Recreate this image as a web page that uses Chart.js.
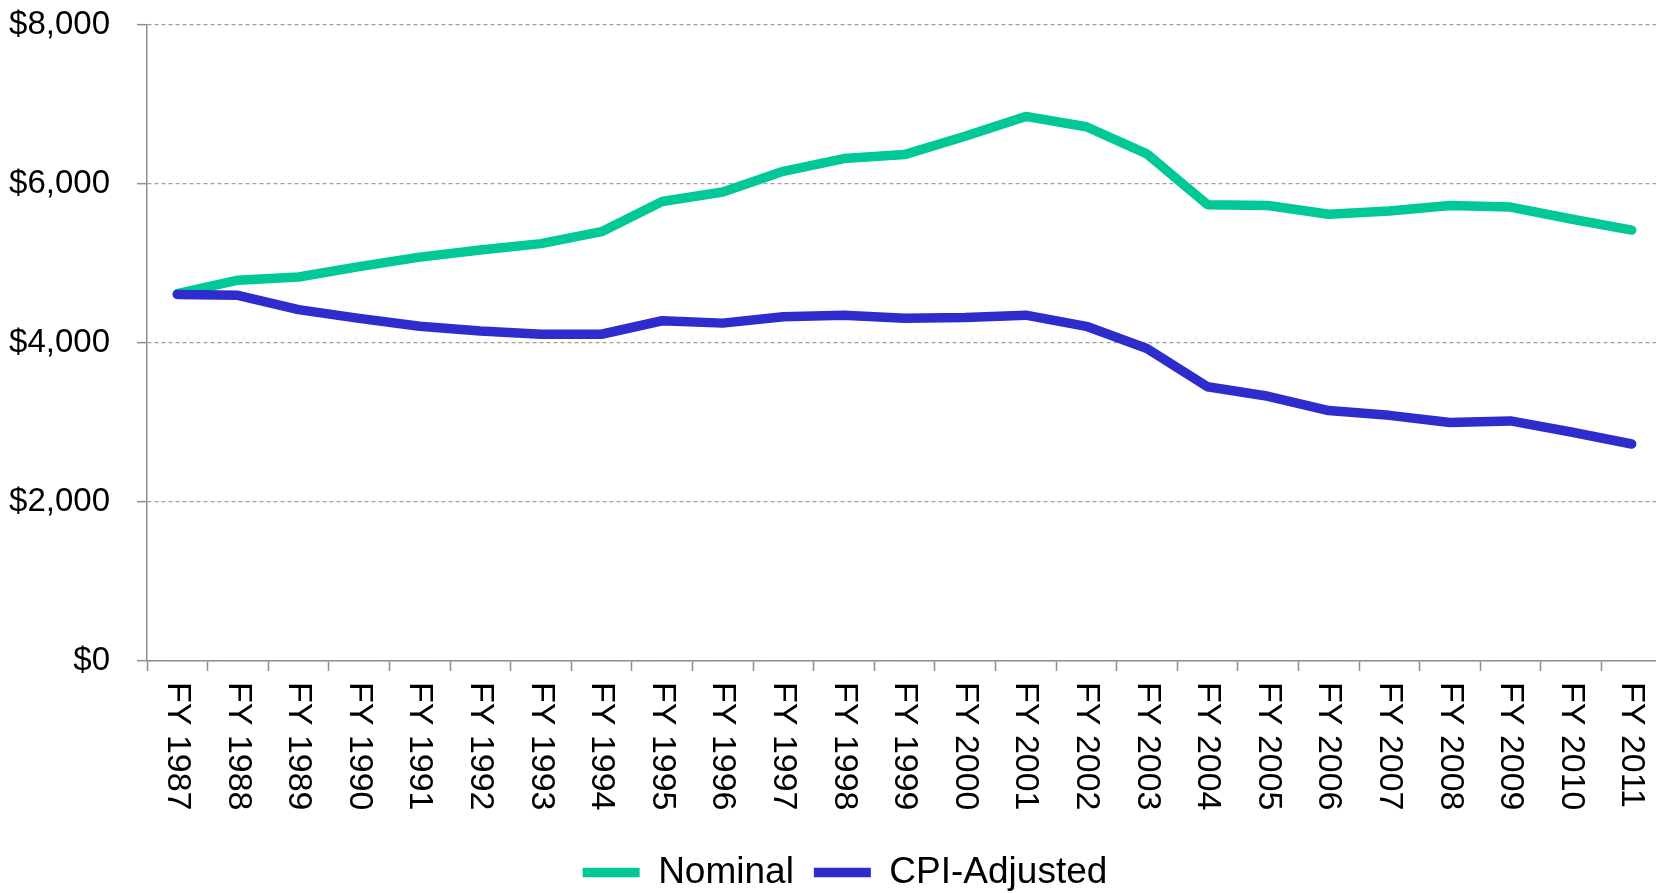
<!DOCTYPE html>
<html>
<head>
<meta charset="utf-8">
<script src="https://cdn.jsdelivr.net/npm/chart.js@4"></script>
<style>
  html, body { margin: 0; padding: 0; background: #fff; overflow: hidden; }
  body { width: 1656px; height: 893px; }
</style>
</head>
<body>
<canvas id="myChart" width="1690" height="901"></canvas>
<script>
'use strict';

// data
const years = ['FY 1987', 'FY 1988', 'FY 1989', 'FY 1990', 'FY 1991', 'FY 1992', 'FY 1993',
    'FY 1994', 'FY 1995', 'FY 1996', 'FY 1997', 'FY 1998', 'FY 1999', 'FY 2000', 'FY 2001',
    'FY 2002', 'FY 2003', 'FY 2004', 'FY 2005', 'FY 2006', 'FY 2007', 'FY 2008', 'FY 2009',
    'FY 2010', 'FY 2011'];
const nominal = [4620, 4790, 4830, 4960, 5080, 5170, 5250, 5400, 5780, 5900, 6160, 6320,
    6370, 6600, 6850, 6720, 6380, 5740, 5730, 5620, 5660, 5730, 5710, 5560, 5420];
const cpiAdjusted = [4610, 4600, 4420, 4310, 4210, 4150, 4110, 4110, 4280, 4250, 4330, 4350,
    4310, 4320, 4350, 4210, 3930, 3450, 3330, 3150, 3090, 3000, 3020, 2880, 2730];
const yTicks = [0, 2000, 4000, 6000, 8000];

const FONT = '"Liberation Sans", Arial, sans-serif';
const GRID = '#a0a0a0';
const AXIS = '#8f8f8f';

// x labels read top-to-bottom, so draw them ourselves at the scale's tick pixels
const fyLabels = {
    id: 'fyLabels',
    afterLayout(chart) {
        // legend sits a little right of centre in the original
        chart.legend.left += 14;
        chart.legend.right += 14;
    },
    afterDraw(chart) {
        const ctx = chart.ctx;
        const x = chart.scales.x;
        ctx.save();
        ctx.font = '34px ' + FONT;
        ctx.fillStyle = '#000';
        ctx.textAlign = 'left';
        ctx.textBaseline = 'middle';
        years.forEach((lbl, i) => {
            ctx.save();
            ctx.translate(x.getPixelForTick(i), x.top + 21);
            ctx.rotate(Math.PI / 2);
            ctx.fillText(lbl, 0, 0);
            ctx.restore();
        });
        ctx.restore();
    }
};

const ctx = document.getElementById('myChart').getContext('2d');

const myChart = new Chart(ctx, {
    type: 'line',
    data: {
        labels: years,
        datasets: [{
            label: 'Nominal',
            data: nominal,
            borderColor: '#00c896',
            backgroundColor: '#00c896',
            borderWidth: 9.5,
            order: 1
        }, {
            label: 'CPI-Adjusted',
            data: cpiAdjusted,
            borderColor: '#2e2ccc',
            backgroundColor: '#2e2ccc',
            borderWidth: 9.5,
            order: 0
        }]
    },
    options: {
        responsive: false,
        animation: false,
        elements: {
            point: { radius: 0, hoverRadius: 0 },
            line: { tension: 0, borderCapStyle: 'round', borderJoinStyle: 'round' }
        },
        layout: { padding: { top: 25, left: 0, right: 28, bottom: 0 } },
        plugins: {
            tooltip: { enabled: false },
            legend: {
                position: 'bottom',
                labels: {
                    usePointStyle: true,
                    pointStyle: 'line',
                    pointStyleWidth: 57,
                    padding: 20,
                    color: '#000',
                    font: { family: FONT, size: 37 },
                    sort: (a, b) => a.datasetIndex - b.datasetIndex
                }
            }
        },
        scales: {
            x: {
                offset: true,
                grid: {
                    offset: true,
                    drawOnChartArea: false,
                    drawTicks: true,
                    tickLength: 10,
                    tickColor: AXIS,
                    tickWidth: 1.5
                },
                border: { color: AXIS, width: 1.5 },
                ticks: { display: false },
                afterFit(s) { s.height = 173; }
            },
            y: {
                min: 0,
                max: 8000,
                afterBuildTicks(s) { s.ticks = yTicks.map(v => ({ value: v })); },
                grid: {
                    color: GRID,
                    lineWidth: 1.3,
                    tickLength: 10,
                    tickColor: AXIS,
                    tickBorderDash: [],
                    tickWidth: 1.5
                },
                border: { color: AXIS, width: 1.5, dash: [4, 3] },
                ticks: {
                    padding: 27,
                    color: '#000',
                    font: { family: FONT, size: 33 },
                    callback: v => '$' + v.toLocaleString('en-US')
                },
                afterFit(s) {
                    s.width = 147;
                    s.paddingTop = 0;
                    s.paddingBottom = 0;
                }
            }
        }
    },
    plugins: [fyLabels]
});
</script>
</body>
</html>
